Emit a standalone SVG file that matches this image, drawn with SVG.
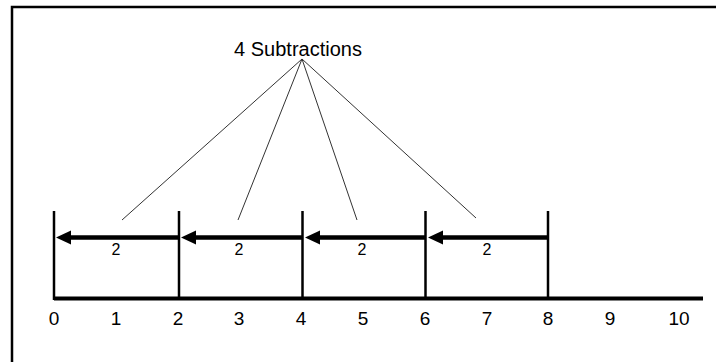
<svg xmlns="http://www.w3.org/2000/svg" width="716" height="362" viewBox="0 0 716 362">
<style>
.t{font-family:"Liberation Sans",Arial,sans-serif;fill:#000;text-anchor:middle}
.n{font-size:19px}
.s{font-size:16px}
.tick{stroke:#000;stroke-width:2.5}
.shaft{stroke:#000;stroke-width:4.5}
.lead{stroke:#333;stroke-width:1}
</style>
<rect width="716" height="362" fill="#fff"/>
<path d="M12 362 V7 H716" fill="none" stroke="#000" stroke-width="2.5"/>
<g id="axis">
<line x1="54" y1="298.5" x2="703" y2="298.5" stroke="#000" stroke-width="4"/>
<line class="tick" x1="54" y1="211" x2="54" y2="300"/>
<line class="tick" x1="179" y1="211" x2="179" y2="300"/>
<line class="tick" x1="302.5" y1="211" x2="302.5" y2="300"/>
<line class="tick" x1="425.5" y1="211" x2="425.5" y2="300"/>
<line class="tick" x1="548" y1="211" x2="548" y2="300"/>
</g>
<g id="labels">
<text class="t n" x="54" y="325">0</text>
<text class="t n" x="116" y="325">1</text>
<text class="t n" x="178" y="325">2</text>
<text class="t n" x="239" y="325">3</text>
<text class="t n" x="301" y="325">4</text>
<text class="t n" x="363" y="325">5</text>
<text class="t n" x="425" y="325">6</text>
<text class="t n" x="487" y="325">7</text>
<text class="t n" x="548" y="325">8</text>
<text class="t n" x="610" y="325">9</text>
<text class="t n" x="679" y="325">10</text>
</g>
<g id="jump1">
<line class="shaft" x1="179" y1="237.5" x2="68" y2="237.5"/>
<polygon points="56,237.5 71,230.5 71,244.5" fill="#000"/>
<text class="t s" x="116" y="255">2</text>
</g>
<g id="jump2">
<line class="shaft" x1="302.5" y1="237.5" x2="192" y2="237.5"/>
<polygon points="181,237.5 196,230.5 196,244.5" fill="#000"/>
<text class="t s" x="239" y="255">2</text>
</g>
<g id="jump3">
<line class="shaft" x1="425.5" y1="237.5" x2="316" y2="237.5"/>
<polygon points="305,237.5 320,230.5 320,244.5" fill="#000"/>
<text class="t s" x="362" y="255">2</text>
</g>
<g id="jump4">
<line class="shaft" x1="548" y1="237.5" x2="439" y2="237.5"/>
<polygon points="428,237.5 443,230.5 443,244.5" fill="#000"/>
<text class="t s" x="487" y="255">2</text>
</g>
<g id="title">
<text class="t" x="298" y="56" font-size="20">4 Subtractions</text>
</g>
<g id="connectors">
<line class="lead" x1="302" y1="59" x2="122" y2="220"/>
<line class="lead" x1="302" y1="59" x2="238" y2="220"/>
<line class="lead" x1="302" y1="59" x2="357" y2="220"/>
<line class="lead" x1="302" y1="59" x2="476" y2="218"/>
</g>
</svg>
